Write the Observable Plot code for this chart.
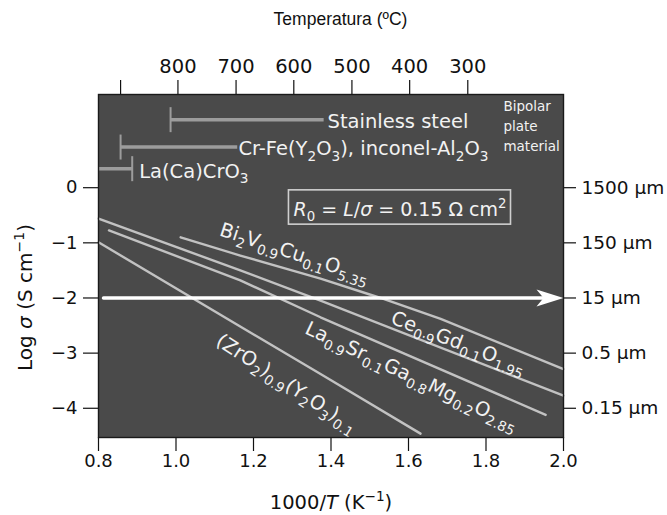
<!DOCTYPE html>
<html><head><meta charset="utf-8">
<script src="https://cdn.jsdelivr.net/npm/d3@7"></script>
<script src="https://cdn.jsdelivr.net/npm/@observablehq/plot@0.6"></script>
<style>body{margin:0;background:#fff}</style>
</head><body><div id="chart"></div>
<script>
// ---- axes ----
const xTicks = [0.8, 1.0, 1.2, 1.4, 1.6, 1.8, 2.0];
const yTicks = [0, -1, -2, -3, -4];
const rightLabels = ["1500 µm", "150 µm", "15 µm", "0.5 µm", "0.15 µm"];
const tempLabels = ["", "800", "700", "600", "500", "400", "300"];
const tempPos = [0.857, 1.005, 1.155, 1.304, 1.454, 1.603, 1.753];

// ---- conductivity lines ----
const seriesNames = ["Bi2V0.9Cu0.1O5.35", "Ce0.9Gd0.1O1.95", "La0.9Sr0.1Ga0.8Mg0.2O2.85", "(ZrO2)0.9(Y2O3)0.1"];
const biX = [1.012, 1.166, 1.373, 1.528, 1.683, 2.0];
const biY = [-0.90, -1.23, -1.65, -2.0, -2.38, -3.29];
const cgoX = [0.8, 1.166, 1.373, 2.0];
const cgoY = [-0.56, -1.50, -2.05, -3.77];
const lsgmX = [0.827, 1.166, 1.373, 1.954];
const lsgmY = [-0.775, -1.68, -2.35, -4.12];
const ysZX = [0.8, 1.373, 1.631];
const ysZY = [-0.99, -3.38, -4.46];

// ---- labels on the lines ----
const formulaText = ["Bi_{2}V_{0.9}Cu_{0.1}O_{5.35}", "Ce_{0·9}Gd_{0.1}O_{1.95}", "La_{0.9}Sr_{0.1}Ga_{0.8}Mg_{0.2}O_{2.85}", "(ZrO_{2})_{0.9}(Y_{2}O_{3})_{0.1}"];
const formulaX = [1.306, 1.729, 1.608, 1.286];
const formulaY = [-1.19, -2.81, -3.42, -3.55];
const formulaAngle = [18, 21, 25, 33];

// ---- bipolar plate materials ----
const barNames = ["Stainless steel", "Cr-Fe(Y_{2}O_{3}), inconel-Al_{2}O_{3}", "La(Ca)CrO_{3}"];
const barStart = [0.986, 0.857, 0.8];
const barEnd = [1.381, 1.158, 0.887];
const barY = [1.234, 0.737, 0.345];
const barTickX = [0.986, 0.857, 0.887];
const barLabelX = [1.391, 1.161, 0.905];
const barLabelY = [1.194, 0.699, 0.294];
const plateText = "Bipolar\nplate\nmaterial";
const plateX = 1.845, plateY = 1.66;

// ---- 15 µm arrow and resistance box ----
const arrowLevel = -2, arrowFrom = 0.813, arrowTo = 2.0;
const r0Text = "*{R}_{0} = *{L}/*{σ} = 0.15 Ω cm^{2}";
const r0X = 1.578, r0Y = -0.40;

const rows = [];
[[biX, biY], [cgoX, cgoY], [lsgmX, lsgmY], [ysZX, ysZY]].forEach(([xs, ys], k) =>
  xs.forEach((x, i) => rows.push({name: seriesNames[k], x, y: ys[i]})));
const formulas = formulaText.map((t, i) => ({t, x: formulaX[i], y: formulaY[i], a: formulaAngle[i]}));
const bars = barNames.map((t, i) => ({t, x1: barStart[i], x2: barEnd[i], y: barY[i], tx: barTickX[i], lx: barLabelX[i], ly: barLabelY[i]}));
const rightMap = new Map(yTicks.map((d, i) => [d, rightLabels[i]]));
const tempMap = new Map(tempPos.map((d, i) => [d, tempLabels[i]]));

const vbar = {draw(ctx) { ctx.moveTo(0, -12.5); ctx.lineTo(0, 12.5); }};
const stealth = {draw(ctx) { ctx.moveTo(0, 0); ctx.lineTo(-27, -8.5); ctx.lineTo(-20, 0); ctx.lineTo(-27, 8.5); ctx.closePath(); }};

const txt = "#f2f2f2";
const fig = Plot.plot({
  width: 667, height: 515,
  marginLeft: 98, marginRight: 104, marginTop: 94, marginBottom: 78,
  style: {fontFamily: "DejaVu Sans", fontSize: "18px", color: "#111", background: "#fff"},
  x: {domain: [0.8, 2.0]},
  y: {domain: [-4.53, 1.69]},
  marks: [
    Plot.frame({fill: "#4a4a4a"}),
    Plot.link(bars, {x1: "x1", x2: "x2", y1: "y", y2: "y", stroke: "#9c9c9c", strokeWidth: 3.5}),
    Plot.dot(bars, {x: "tx", y: "y", symbol: vbar, fill: "none", stroke: "#9c9c9c", strokeWidth: 2}),
    Plot.line(rows, {x: "x", y: "y", z: "name", stroke: "#c2c2c2", strokeWidth: 2.4}),
    Plot.arrow([0], {x1: arrowFrom, x2: arrowTo, y1: arrowLevel, y2: arrowLevel, headLength: 0, insetEnd: 14, stroke: "#fff", strokeWidth: 3.6}),
    Plot.dot([0], {x: arrowTo, y: arrowLevel, symbol: stealth, fill: "#fff", stroke: "none"}),
    Plot.text(formulas, {x: "x", y: "y", text: "t", rotate: "a", fill: txt, fontSize: 19.5, textAnchor: "middle", lineAnchor: "middle"}),
    Plot.text(bars, {x: "lx", y: "ly", text: "t", fill: txt, fontSize: 19.5, textAnchor: "start", lineAnchor: "middle"}),
    Plot.text([plateText], {x: plateX, y: plateY, fill: txt, fontSize: 13.5, textAnchor: "start", lineAnchor: "top", lineHeight: 1.5}),
    Plot.text([r0Text], {x: r0X, y: r0Y, fill: txt, fontSize: 19, textAnchor: "middle", lineAnchor: "middle"}),
    Plot.axisX({ticks: xTicks, tickFormat: ".1f", tickSize: 14, tickPadding: 3, fontSize: 18, label: null, stroke: "#111", strokeWidth: 1.2}),
    Plot.axisY({ticks: yTicks, tickFormat: d => d3.format("")(d), tickSize: 15, tickPadding: 6, fontSize: 18, label: null, stroke: "#111", strokeWidth: 1.2}),
    Plot.axisY({anchor: "right", ticks: yTicks, tickFormat: d => rightMap.get(d), tickSize: 12, tickPadding: 6, fontSize: 18.5, label: null, stroke: "#111", strokeWidth: 1.2}),
    Plot.axisX({anchor: "top", ticks: tempPos, tickFormat: d => tempMap.get(d), tickSize: 15, tickPadding: 7, fontSize: 19.5, label: null, stroke: "#111", strokeWidth: 1.2}),
    Plot.text(["Temperatura (ºC)"], {frameAnchor: "top", dx: 9.5, dy: -75, fontFamily: "Liberation Sans", fontSize: 17.5, fill: "#111", textAnchor: "middle", lineAnchor: "middle"}),
    Plot.text(["Log *{σ} (S cm^{−1})"], {frameAnchor: "left", dx: -73, dy: 31.5, rotate: -90, fontSize: 20, fill: "#111", textAnchor: "middle", lineAnchor: "middle"}),
    Plot.text(["1000/*{T} (K^{−1})"], {frameAnchor: "bottom", dy: 65, fontSize: 19.5, fill: "#111", textAnchor: "middle", lineAnchor: "middle"}),
    Plot.frame({stroke: "#1a1a1a", strokeWidth: 1.4})
  ]
});
document.getElementById("chart").append(fig);
const svg = fig.tagName.toLowerCase() === "svg" ? fig : fig.querySelector("svg");

// rich text: _{sub} ^{sup} *{italic}
const NS = "http://www.w3.org/2000/svg";
let r0El = null;
svg.querySelectorAll("text").forEach(el => {
  if (el.children.length) return;
  const s = el.textContent;
  if (!/[_^*]\{/.test(s)) return;
  if (s.includes("Ω")) r0El = el;
  const fs = parseFloat(getComputedStyle(el).fontSize);
  const re = /([_^*])\{([^}]*)\}/g;
  const segs = []; let last = 0, m;
  while ((m = re.exec(s))) {
    if (m.index > last) segs.push({t: s.slice(last, m.index), k: ""});
    segs.push({t: m[2], k: m[1]});
    last = re.lastIndex;
  }
  if (last < s.length) segs.push({t: s.slice(last), k: ""});
  el.textContent = "";
  let cur = 0;
  for (const g of segs) {
    const ts = document.createElementNS(NS, "tspan");
    const want = g.k === "_" ? 0.28 * fs : g.k === "^" ? -0.42 * fs : 0;
    if (want !== cur) ts.setAttribute("dy", (want - cur).toFixed(2));
    cur = want;
    if (g.k === "_" || g.k === "^") ts.setAttribute("font-size", (0.7 * fs).toFixed(2));
    if (g.k === "*") ts.setAttribute("font-style", "italic");
    ts.textContent = g.t;
    el.appendChild(ts);
  }
});
if (r0El) {
  const b = r0El.getBBox();
  const rect = document.createElementNS(NS, "rect");
  rect.setAttribute("x", b.x - 5);
  rect.setAttribute("y", b.y - 6);
  rect.setAttribute("width", b.width + 9);
  rect.setAttribute("height", b.height + 6);
  rect.setAttribute("fill", "none");
  rect.setAttribute("stroke", "#cfcfcf");
  rect.setAttribute("stroke-width", 1.6);
  const tr = r0El.getAttribute("transform");
  if (tr) rect.setAttribute("transform", tr);
  r0El.parentNode.insertBefore(rect, r0El);
}
</script>
</body></html>
